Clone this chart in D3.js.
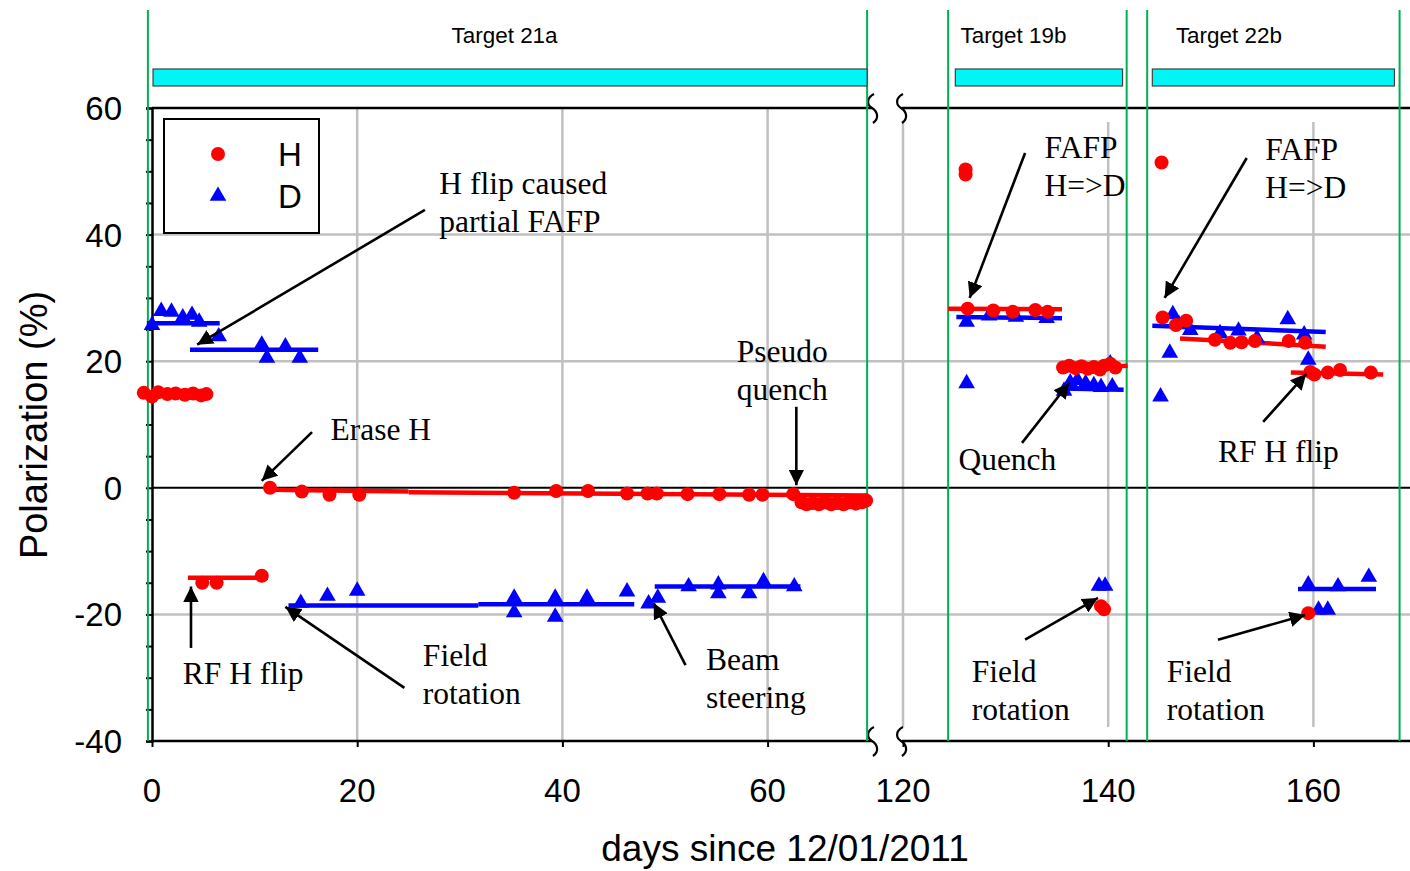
<!DOCTYPE html>
<html>
<head>
<meta charset="utf-8">
<script src="https://cdn.jsdelivr.net/npm/d3@7"></script>
<style>
  html, body { margin: 0; padding: 0; background: #fff; }
  svg { display: block; }
</style>
</head>
<body>
<svg id="chart" width="1410" height="871"></svg>
<script>
// ---- data -------------------------------------------------------------
const yTicks = [60, 40, 20, 0, -20, -40];
const xTicksLeft = [0, 20, 40, 60];
const xTicksRight = [120, 140, 160];

// H polarization measurements [day, %]
const hPoints = [
  // Target 21a
  [-0.8, 15.0], [0.0, 14.4], [0.6, 15.1], [1.5, 14.8], [2.3, 14.9], [3.2, 14.7], [4.0, 14.9], [4.8, 14.6], [5.3, 14.8],
  [4.9, -15.0], [6.3, -15.0], [10.7, -13.9],
  [11.5, 0.0], [14.6, -0.6], [17.3, -1.1], [20.2, -1.1],
  [35.3, -0.8], [39.4, -0.5], [42.5, -0.5], [46.3, -0.9], [48.3, -0.9], [49.2, -0.9],
  [52.2, -1.0], [55.3, -1.0], [58.2, -1.1], [59.5, -1.1], [62.5, -1.0],
  [63.3, -2.3], [63.8, -2.6], [64.4, -2.4], [65.0, -2.6], [65.6, -2.3], [66.2, -2.6],
  [66.8, -2.4], [67.4, -2.6], [68.0, -2.3], [68.6, -2.5], [69.2, -2.3], [69.6, -2.0],
  // Target 19b
  [126.1, 50.3], [126.1, 49.5],
  [126.3, 28.3], [128.8, 28.0], [130.7, 27.8], [132.9, 28.1], [134.1, 27.8],
  [135.6, 19.0], [136.2, 19.3], [136.8, 18.9], [137.4, 19.2], [138.0, 18.8], [138.6, 19.1],
  [139.2, 18.7], [139.6, 19.3], [140.2, 19.6], [140.7, 19.0],
  [139.3, -18.7], [139.6, -19.2],
  // Target 22b
  [145.2, 51.4],
  [145.3, 26.9], [146.6, 25.7], [147.6, 26.4],
  [150.4, 23.4], [151.9, 22.9], [153.0, 23.0], [154.3, 23.2], [157.6, 23.2], [159.2, 22.9],
  [159.7, 18.3], [160.1, 17.9], [161.4, 18.2], [162.6, 18.6], [165.6, 18.2],
  [159.5, -19.8]
];

// D polarization measurements [day, %]
const dPoints = [
  // Target 21a
  [0.0, 25.7], [0.9, 27.9], [1.9, 27.8], [3.0, 26.9], [3.9, 27.3], [4.6, 26.2], [6.5, 23.9],
  [10.7, 22.6], [11.2, 20.5], [13.0, 22.3], [14.4, 20.5],
  [14.5, -18.2], [17.1, -17.1], [20.0, -16.3],
  [35.3, -17.4], [35.3, -19.7], [39.3, -17.4], [39.3, -20.4], [42.4, -17.4], [46.3, -16.4],
  [48.4, -18.3], [49.3, -17.4],
  [52.3, -15.6], [55.2, -15.3], [55.2, -16.7], [58.2, -16.7], [59.6, -14.8], [62.6, -15.6],
  // Target 19b
  [126.2, 16.5], [126.2, 26.2], [128.4, 27.2], [131.0, 27.0], [134.0, 26.8],
  [135.7, 15.3], [136.3, 16.6], [137.0, 17.0], [137.8, 16.5], [138.6, 16.2], [139.3, 15.9],
  [140.2, 19.6], [140.4, 16.0],
  [139.1, -15.5], [139.7, -15.5],
  // Target 22b
  [145.1, 14.4], [146.0, 21.3], [146.3, 27.4], [146.9, 25.8], [148.0, 24.9], [150.9, 24.4],
  [152.7, 24.8], [154.5, 23.6], [157.5, 26.6], [159.1, 24.2], [159.5, 20.2],
  [159.5, -15.3], [162.4, -15.6], [165.4, -14.1], [160.5, -19.3], [161.4, -19.3]
];

// Fitted trends: [startDay, endDay, startValue, endValue]
const hFits = [
  [-0.9, 5.5, 14.9, 14.9],
  [3.5, 11.3, -14.2, -14.2],
  [11.3, 25.0, -0.3, -0.6],
  [25.0, 69.8, -0.7, -1.2],
  [124.4, 135.5, 28.3, 28.2],
  [135.5, 141.9, 18.8, 19.3],
  [147.0, 161.2, 23.6, 22.3],
  [157.8, 166.8, 18.2, 17.9]
];
const dFits = [
  [-0.5, 6.6, 26.0, 26.0],
  [3.7, 16.2, 21.8, 21.8],
  [13.3, 31.8, -18.6, -18.6],
  [31.8, 47.0, -18.4, -18.4],
  [49.0, 63.2, -15.6, -15.6],
  [125.2, 135.5, 27.0, 26.8],
  [135.5, 141.5, 15.7, 15.5],
  [144.3, 161.2, 25.6, 24.6],
  [158.5, 166.1, -16.0, -16.0]
];

// Target periods: name, label start day, bar span, boundary lines
const targetNames = ["Target 21a", "Target 19b", "Target 22b"];
const targetLabelDay = [29.2, 125.6, 146.6];
const targetBar = [[0.1, 69.7], [125.1, 141.4], [144.3, 167.9]];
const targetBounds = [[-0.4, 69.7], [124.4, 141.8], [143.8, 168.4]];

// Annotations: text lines, text anchor [day, value], arrow [from day, value, to day, value]
const notes = [
  { lines: ["H flip caused", "partial FAFP"], at: [28.0, 48.0], arrow: [26.6, 43.9, 4.4, 22.6] },
  { lines: ["Erase H"], at: [17.4, 9.2], arrow: [15.6, 8.8, 10.7, 1.1] },
  { lines: ["Pseudo", "quench"], at: [57.0, 21.5], arrow: [62.8, 12.8, 62.8, 0.4] },
  { lines: ["RF H flip"], at: [3.0, -29.4], arrow: [3.8, -25.3, 3.8, -15.6] },
  { lines: ["Field", "rotation"], at: [26.4, -26.5], arrow: [24.6, -31.6, 13.0, -18.8] },
  { lines: ["Beam", "steering"], at: [54.0, -27.2], arrow: [52.0, -28.0, 48.9, -18.2] },
  { lines: ["FAFP", "H=>D"], at: [133.8, 53.7], arrow: [131.9, 52.9, 126.5, 30.0] },
  { lines: ["Quench"], at: [125.4, 4.4], arrow: [131.6, 7.1, 136.2, 16.6] },
  { lines: ["Field", "rotation"], at: [126.7, -29.1], arrow: [131.9, -24.0, 139.0, -17.4] },
  { lines: ["FAFP", "H=>D"], at: [155.3, 53.4], arrow: [153.5, 52.1, 145.5, 30.0] },
  { lines: ["RF H flip"], at: [150.7, 5.7], arrow: [155.1, 10.4, 159.3, 18.0] },
  { lines: ["Field", "rotation"], at: [145.7, -29.1], arrow: [150.7, -24.0, 159.2, -20.1] }
];

// ---- layout -----------------------------------------------------------
const plotTop = 108, plotBottom = 741;
const leftX0 = 152, leftX1 = 870;
const rightX0 = 903, rightX1 = 1410;
const pxPerDay = 10.26;

const xL = d3.scaleLinear().domain([0, 70]).range([leftX0, leftX0 + 70 * pxPerDay]);
const xR = d3.scaleLinear().domain([120, 170]).range([rightX0, rightX0 + 50 * pxPerDay]);
const xPos = d => (d < 100 ? xL(d) : xR(d));
const y = d3.scaleLinear().domain([-40, 60]).range([plotBottom, plotTop]);

const RED = "#ff0000", BLUE = "#0000ff", GREEN = "#00b050", GRID = "#c0c0c0";
const sans = "Arial, 'Liberation Sans', sans-serif";
const serif = "'Times New Roman', 'Liberation Serif', serif";

const svg = d3.select("#chart");
svg.append("rect").attr("width", 1410).attr("height", 871).attr("fill", "#fff");

// ---- grid -------------------------------------------------------------
const grid = svg.append("g");
[40, 20, -20].forEach(v => {
  grid.append("line").attr("x1", leftX0).attr("x2", rightX1)
    .attr("y1", y(v)).attr("y2", y(v)).attr("stroke", GRID).attr("stroke-width", 2.5);
});
xTicksLeft.filter(t => t > 0).forEach(t => {
  grid.append("line").attr("x1", xL(t)).attr("x2", xL(t))
    .attr("y1", plotTop).attr("y2", plotBottom).attr("stroke", GRID).attr("stroke-width", 2.5);
});
xTicksRight.forEach(t => {
  grid.append("line").attr("x1", xR(t)).attr("x2", xR(t))
    .attr("y1", plotTop + 14).attr("y2", plotBottom - 14).attr("stroke", GRID).attr("stroke-width", 2.5);
});
// zero line
grid.append("line").attr("x1", leftX0).attr("x2", rightX1)
  .attr("y1", y(0)).attr("y2", y(0)).attr("stroke", "#000").attr("stroke-width", 2);

// ---- frame (broken x axis) -------------------------------------------
const frame = svg.append("g").attr("stroke", "#000").attr("stroke-width", 2.5);
[plotTop, plotBottom].forEach(yy => {
  frame.append("line").attr("x1", leftX0).attr("x2", leftX1 + 2).attr("y1", yy).attr("y2", yy);
  frame.append("line").attr("x1", rightX0 - 1).attr("x2", rightX1).attr("y1", yy).attr("y2", yy);
});

// break marks
const breakPath = (x, yy) =>
  `M${x + 2},${yy - 14} C${x - 6},${yy - 10} ${x - 5},${yy - 3} ${x},${yy} C${x + 5},${yy + 3} ${x + 8},${yy + 10} ${x + 1},${yy + 15}`;
[leftX1 + 2, rightX0 - 2].forEach(bx => {
  [plotTop, plotBottom].forEach(by => {
    svg.append("path").attr("d", breakPath(bx, by))
      .attr("fill", "none").attr("stroke", "#000").attr("stroke-width", 2.2);
  });
});

// ---- y axis -----------------------------------------------------------
const yAxis = d3.axisLeft(y).tickValues(d3.range(-40, 61, 5)).tickSize(6).tickFormat("");
const yAxisG = svg.append("g").attr("transform", `translate(${leftX0},0)`).call(yAxis);
yAxisG.select(".domain").attr("stroke", "#000").attr("stroke-width", 2.5);
yAxisG.selectAll(".tick line").attr("stroke", "#000").attr("stroke-width", 2);

svg.append("g").selectAll("text").data(yTicks).join("text")
  .attr("x", 122).attr("y", d => y(d) + 12)
  .attr("text-anchor", "end")
  .attr("font-family", sans).attr("font-size", 33).attr("fill", "#000")
  .text(d => d);

// ---- x axes -----------------------------------------------------------
const xAxisL = d3.axisBottom(xL).tickValues(xTicksLeft).tickSize(6).tickFormat("");
const xAxisR = d3.axisBottom(xR).tickValues(xTicksRight).tickSize(6).tickFormat("");
[svg.append("g").call(xAxisL), svg.append("g").call(xAxisR)].forEach(g => {
  g.attr("transform", `translate(0,${plotBottom})`);
  g.select(".domain").remove();
  g.selectAll(".tick line").attr("stroke", "#000").attr("stroke-width", 2);
});
const xTickLabels = xTicksLeft.map(t => [t, xL(t)]).concat(xTicksRight.map(t => [t, xR(t)]));
svg.append("g").selectAll("text").data(xTickLabels).join("text")
  .attr("x", d => d[1]).attr("y", 802)
  .attr("text-anchor", "middle")
  .attr("font-family", sans).attr("font-size", 33).attr("fill", "#000")
  .text(d => d[0]);

// axis titles
svg.append("text")
  .attr("transform", "translate(47,425) rotate(-90)")
  .attr("text-anchor", "middle")
  .attr("font-family", sans).attr("font-size", 38).attr("fill", "#000")
  .text("Polarization (%)");
svg.append("text")
  .attr("x", 785).attr("y", 861)
  .attr("text-anchor", "middle")
  .attr("font-family", sans).attr("font-size", 37).attr("fill", "#000")
  .text("days since 12/01/2011");

// ---- target periods ---------------------------------------------------
const tg = svg.append("g");
targetBounds.forEach(b => {
  b.forEach(d => {
    tg.append("line").attr("x1", xPos(d)).attr("x2", xPos(d))
      .attr("y1", 10).attr("y2", plotBottom)
      .attr("stroke", GREEN).attr("stroke-width", 2);
  });
});
targetBar.forEach(b => {
  tg.append("rect")
    .attr("x", xPos(b[0])).attr("y", 69)
    .attr("width", xPos(b[1]) - xPos(b[0])).attr("height", 17)
    .attr("fill", "#00f5f5").attr("stroke", "#404040").attr("stroke-width", 1.2);
});
targetNames.forEach((n, i) => {
  tg.append("text")
    .attr("x", xPos(targetLabelDay[i])).attr("y", 43)
    .attr("font-family", sans).attr("font-size", 22).attr("fill", "#000")
    .attr("textLength", 106).attr("lengthAdjust", "spacingAndGlyphs")
    .text(n);
});

// ---- fit lines --------------------------------------------------------
const fitG = svg.append("g").attr("stroke-linecap", "butt");
fitG.selectAll("line.h").data(hFits).join("line").attr("class", "h")
  .attr("x1", d => xPos(d[0])).attr("x2", d => xPos(d[1]))
  .attr("y1", d => y(d[2])).attr("y2", d => y(d[3]))
  .attr("stroke", RED).attr("stroke-width", 4.5);
fitG.selectAll("line.d").data(dFits).join("line").attr("class", "d")
  .attr("x1", d => xPos(d[0])).attr("x2", d => xPos(d[1]))
  .attr("y1", d => y(d[2])).attr("y2", d => y(d[3]))
  .attr("stroke", BLUE).attr("stroke-width", 4.5);

// ---- markers ----------------------------------------------------------
const tri = d3.symbol().type(d3.symbolTriangle).size(120);
svg.append("g").selectAll("path").data(dPoints).join("path")
  .attr("d", tri)
  .attr("transform", d => `translate(${xPos(d[0])},${y(d[1])})`)
  .attr("fill", BLUE);
svg.append("g").selectAll("circle").data(hPoints).join("circle")
  .attr("cx", d => xPos(d[0])).attr("cy", d => y(d[1])).attr("r", 7)
  .attr("fill", RED);

// ---- annotations ------------------------------------------------------
svg.append("defs").append("marker")
  .attr("id", "arrowhead").attr("viewBox", "0 0 10 10")
  .attr("refX", 10).attr("refY", 5)
  .attr("markerWidth", 6).attr("markerHeight", 6)
  .attr("markerUnits", "strokeWidth")
  .attr("orient", "auto")
  .append("path").attr("d", "M0,0 L10,5 L0,10 Z").attr("fill", "#000");

const ng = svg.append("g");
notes.forEach(n => {
  const a = n.arrow;
  ng.append("line")
    .attr("x1", xPos(a[0])).attr("y1", y(a[1]))
    .attr("x2", xPos(a[2])).attr("y2", y(a[3]))
    .attr("stroke", "#000").attr("stroke-width", 2.6)
    .attr("marker-end", "url(#arrowhead)");
  n.lines.forEach((t, i) => {
    ng.append("text")
      .attr("x", xPos(n.at[0])).attr("y", y(n.at[1]) + 10 + i * 38)
      .attr("font-family", serif).attr("font-size", 31.5).attr("fill", "#000")
      .text(t);
  });
});

// ---- legend -----------------------------------------------------------
const lg = svg.append("g");
lg.append("rect").attr("x", 164).attr("y", 119).attr("width", 155).attr("height", 114)
  .attr("fill", "#fff").attr("stroke", "#000").attr("stroke-width", 2);
lg.append("circle").attr("cx", 218).attr("cy", 154).attr("r", 7).attr("fill", RED);
lg.append("path").attr("d", tri).attr("transform", "translate(218,196)").attr("fill", BLUE);
lg.append("text").attr("x", 290).attr("y", 166).attr("text-anchor", "middle")
  .attr("font-family", sans).attr("font-size", 33).attr("fill", "#000").text("H");
lg.append("text").attr("x", 290).attr("y", 208).attr("text-anchor", "middle")
  .attr("font-family", sans).attr("font-size", 33).attr("fill", "#000").text("D");
</script>
</body>
</html>
